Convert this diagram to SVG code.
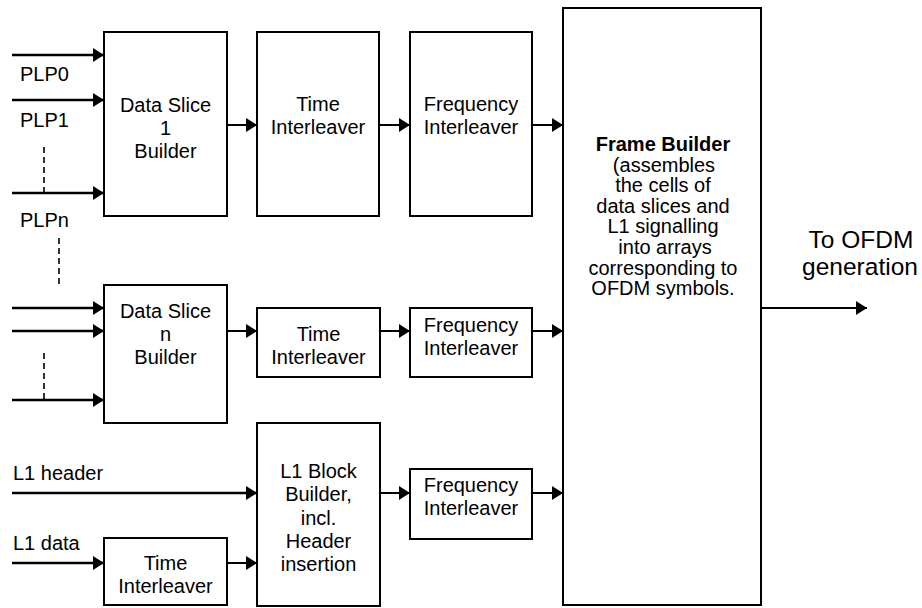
<svg xmlns="http://www.w3.org/2000/svg" width="922" height="608" viewBox="0 0 922 608">
<style>
  .box { fill: #fff; stroke: #000; stroke-width: 2; }
  .t { font-family: "Liberation Sans", Arial, sans-serif; font-size: 20px; fill: #000; text-anchor: middle; }
  .l { font-family: "Liberation Sans", Arial, sans-serif; font-size: 20px; fill: #000; }
  .big { font-family: "Liberation Sans", Arial, sans-serif; font-size: 24.5px; fill: #000; text-anchor: middle; }
  .arr { stroke: #000; stroke-width: 2; fill: none; marker-end: url(#ah); }
  .in { stroke: #000; stroke-width: 2.4; fill: none; marker-end: url(#ah); }
  .dash { stroke: #000; stroke-width: 1.6; stroke-dasharray: 6 4; fill: none; }
</style>
<defs>
  <marker id="ah" markerUnits="userSpaceOnUse" markerWidth="12" markerHeight="14" refX="11" refY="7" orient="auto">
    <path d="M0,0 L11,7 L0,14 z" fill="#000"/>
  </marker>
</defs>
<rect width="922" height="608" fill="#fff"/>

<g id="connectors">
  <line class="in" x1="12" y1="55" x2="104" y2="55"/>
  <line class="in" x1="12" y1="100" x2="104" y2="100"/>
  <line class="in" x1="12" y1="193" x2="104" y2="193"/>
  <line class="dash" x1="44" y1="147" x2="44" y2="193"/>
  <line class="dash" x1="59" y1="238" x2="59" y2="285"/>
  <line class="in" x1="12" y1="308" x2="104" y2="308"/>
  <line class="in" x1="12" y1="331" x2="104" y2="331"/>
  <line class="in" x1="12" y1="400" x2="104" y2="400"/>
  <line class="dash" x1="44" y1="353" x2="44" y2="400"/>
  <line class="arr" x1="227" y1="125" x2="257" y2="125"/>
  <line class="arr" x1="379" y1="125" x2="410" y2="125"/>
  <line class="arr" x1="532" y1="125" x2="563" y2="125"/>
  <line class="arr" x1="227" y1="331" x2="257" y2="331"/>
  <line class="arr" x1="380" y1="331" x2="410" y2="331"/>
  <line class="arr" x1="532" y1="331" x2="563" y2="331"/>
  <line class="in" x1="12" y1="493" x2="257" y2="493"/>
  <line class="arr" x1="380" y1="493" x2="410" y2="493"/>
  <line class="arr" x1="532" y1="493" x2="563" y2="493"/>
  <line class="in" x1="12" y1="563" x2="104" y2="563"/>
  <line class="arr" x1="227" y1="563" x2="257" y2="563"/>
  <line class="arr" x1="761" y1="308" x2="867" y2="308"/>
</g>

<g id="labels">
  <text class="l" x="20" y="81">PLP0</text>
  <text class="l" x="20" y="127">PLP1</text>
  <text class="l" x="20" y="227">PLPn</text>
  <text class="l" x="13" y="480">L1 header</text>
  <text class="l" x="13" y="550">L1 data</text>
  <text class="big" x="861" y="248">To OFDM</text>
  <text class="big" x="860" y="275">generation</text>
</g>

<g id="ds1">
  <rect class="box" x="104" y="32" width="123" height="184"/>
  <text class="t" x="165.5" y="111.5">Data Slice</text>
  <text class="t" x="165.5" y="134.5">1</text>
  <text class="t" x="165.5" y="157.5">Builder</text>
</g>
<g id="ti1">
  <rect class="box" x="257" y="32" width="122" height="184"/>
  <text class="t" x="318" y="110.5">Time</text>
  <text class="t" x="318" y="133.5">Interleaver</text>
</g>
<g id="fi1">
  <rect class="box" x="410" y="32" width="122" height="184"/>
  <text class="t" x="471" y="110.5">Frequency</text>
  <text class="t" x="471" y="133.5">Interleaver</text>
</g>
<g id="frame">
  <rect class="box" x="563" y="8" width="198" height="597"/>
  <text class="t" x="663" y="151" font-weight="bold">Frame Builder</text>
  <text class="t" x="664" y="171.6">(assembles</text>
  <text class="t" x="663" y="192.2">the cells of</text>
  <text class="t" x="663" y="212.8">data slices and</text>
  <text class="t" x="663" y="233.4">L1 signalling</text>
  <text class="t" x="665" y="254">into arrays</text>
  <text class="t" x="663" y="274.6">corresponding to</text>
  <text class="t" x="663" y="295.2">OFDM symbols.</text>
</g>
<g id="dsn">
  <rect class="box" x="104" y="285" width="123" height="138"/>
  <text class="t" x="165.5" y="317.5">Data Slice</text>
  <text class="t" x="165.5" y="340.5">n</text>
  <text class="t" x="165.5" y="363.5">Builder</text>
</g>
<g id="tin">
  <rect class="box" x="257" y="308" width="123" height="69"/>
  <text class="t" x="318.5" y="340.5">Time</text>
  <text class="t" x="318.5" y="363.5">Interleaver</text>
</g>
<g id="fin">
  <rect class="box" x="410" y="308" width="122" height="69"/>
  <text class="t" x="471" y="331.5">Frequency</text>
  <text class="t" x="471" y="354.5">Interleaver</text>
</g>
<g id="l1block">
  <rect class="box" x="257" y="423" width="123" height="183"/>
  <text class="t" x="318.5" y="478">L1 Block</text>
  <text class="t" x="318.5" y="501.3">Builder,</text>
  <text class="t" x="318.5" y="524.6">incl.</text>
  <text class="t" x="318.5" y="548">Header</text>
  <text class="t" x="318.5" y="571.3">insertion</text>
</g>
<g id="fil1">
  <rect class="box" x="410" y="469" width="122" height="70"/>
  <text class="t" x="471" y="491.5">Frequency</text>
  <text class="t" x="471" y="514.5">Interleaver</text>
</g>
<g id="til1">
  <rect class="box" x="104" y="538" width="123" height="67"/>
  <text class="t" x="165.5" y="570">Time</text>
  <text class="t" x="165.5" y="593">Interleaver</text>
</g>
</svg>
